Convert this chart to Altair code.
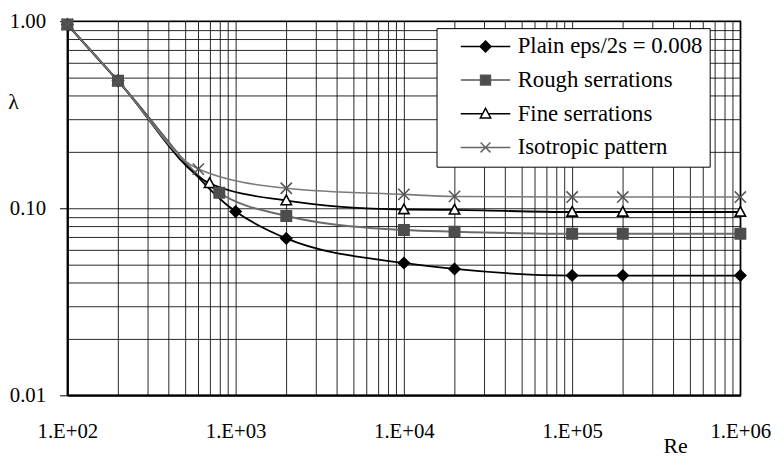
import altair as alt
import pandas as pd

# ---- data ----
series_names = ["Plain eps/2s = 0.008", "Rough serrations", "Fine serrations", "Isotropic pattern"]

plain_re = [1e2, 2e2, 1e3, 2e3, 1e4, 2e4, 1e5, 2e5, 1e6]
plain_lam = [0.96, 0.48, 0.096, 0.069, 0.051, 0.0474, 0.0437, 0.0437, 0.0437]

rough_re = [1e2, 2e2, 8e2, 2e3, 1e4, 2e4, 1e5, 2e5, 1e6]
rough_lam = [0.96, 0.48, 0.121, 0.091, 0.0765, 0.075, 0.073, 0.073, 0.073]

fine_re = [1e2, 2e2, 7e2, 2e3, 1e4, 2e4, 1e5, 2e5, 1e6]
fine_lam = [0.96, 0.48, 0.136, 0.110, 0.0985, 0.098, 0.0955, 0.0955, 0.0955]

iso_re = [1e2, 2e2, 6e2, 2e3, 1e4, 2e4, 1e5, 2e5, 1e6]
iso_lam = [0.96, 0.48, 0.162, 0.128, 0.1186, 0.1157, 0.1148, 0.1148, 0.1148]

x_grid_values = [100, 200, 300, 400, 500, 600, 700, 800, 900,
                 1000, 2000, 3000, 4000, 5000, 6000, 7000, 8000, 9000,
                 10000, 20000, 30000, 40000, 50000, 60000, 70000, 80000, 90000,
                 100000, 200000, 300000, 400000, 500000, 600000, 700000, 800000, 900000,
                 1000000]
x_label_values = [100, 1000, 10000, 100000, 1000000]
y_grid_values = [0.01, 0.02, 0.03, 0.04, 0.05, 0.06, 0.07, 0.08, 0.09,
                 0.1, 0.2, 0.3, 0.4, 0.5, 0.6, 0.7, 0.8, 0.9, 1.0]
y_label_values = [0.01, 0.1, 1.0]

rows = []
for name, xs, ys in [(series_names[0], plain_re, plain_lam),
                     (series_names[1], rough_re, rough_lam),
                     (series_names[2], fine_re, fine_lam),
                     (series_names[3], iso_re, iso_lam)]:
    for xv, yv in zip(xs, ys):
        rows.append({"series": name, "Re": xv, "lam": yv})
df = pd.DataFrame(rows)

# ---- styling ----
FONT = "Liberation Serif"
DIAMOND = "M0,-1L1,0L0,1L-1,0Z"
SQUARE = "M-1,-1H1V1H-1Z"
TRIANGLE = "M0,-1.05L1,0.8L-1,0.8Z"
CROSS = "M-1,-1L1,1M-1,1L1,-1"

line_colors = ["#000000", "#6b6b6b", "#000000", "#7a7a7a"]
line_widths = [1.8, 2.0, 1.8, 1.6]
marker_shapes = [DIAMOND, SQUARE, TRIANGLE, CROSS]
marker_fills = ["#000000", "#4d4d4d", "#ffffff", "transparent"]
marker_strokes = ["#000000", "#4d4d4d", "#000000", "#555555"]
marker_sizes = [121, 110, 110, 130]

legend_paths = [
    "M-5,0H5M0,-1.1L1.1,0L0,1.1L-1.1,0Z",
    "M-5,0H-1M1,0H5M-1,-1H1V1H-1Z",
    "M-5,0H-0.62M0.62,0H5M0,-1.1L1.05,0.85L-1.05,0.85Z",
    "M-5,0H5M-1,-1L1,1M-1,1L1,-1",
]
legend_fills = ["#000000", "#4d4d4d", "#ffffff", "transparent"]
legend_strokes = ["#000000", "#555555", "#000000", "#666666"]

x_enc = alt.X("Re:Q",
              scale=alt.Scale(type="log", domain=[100, 1000000], nice=False),
              axis=alt.Axis(values=x_grid_values, grid=True, ticks=False,
                            labelExpr="indexof([100,1000,10000,100000,1000000], datum.value) >= 0 ? '1.E+0' + format(log(datum.value)/LN10, '.0f') : ''",
                            labelOverlap=False, labelFlush=False, labelPadding=26,
                            title="Re", titleX=614, titleY=51, titleAlign="center",
                            titleBaseline="middle"))
y_enc = alt.Y("lam:Q",
              scale=alt.Scale(type="log", domain=[0.01, 1.0], nice=False),
              axis=alt.Axis(values=y_grid_values, grid=True, tickSize=8,
                            tickOpacity={"condition": {"test": "indexof([0.01,0.1,1], datum.value) >= 0", "value": 1}, "value": 0},
                            labelExpr="indexof([0.01,0.1,1], datum.value) >= 0 ? format(datum.value, '.2f') : ''",
                            labelOverlap=False, labelFlush=False, labelPadding=14,
                            title="λ", titleAngle=0, titleX=-55, titleY=81,
                            titleAlign="center", titleBaseline="middle"))

base = alt.Chart(df)

line_layers = []
for i, name in enumerate(series_names):
    line_layers.append(
        base.transform_filter(alt.datum.series == name)
        .mark_line(interpolate="monotone", color=line_colors[i], strokeWidth=line_widths[i])
        .encode(x=x_enc, y=y_enc)
    )

point_layers = []
for i in [2, 0, 1, 3]:
    name = series_names[i]
    point_layers.append(
        base.transform_filter(alt.datum.series == name)
        .mark_point(shape=marker_shapes[i], filled=True, fill=marker_fills[i],
                    stroke=marker_strokes[i], strokeWidth=1.6, size=marker_sizes[i], opacity=1)
        .encode(x=x_enc, y=y_enc)
    )

leg = alt.Legend(title=None, orient="none", legendX=373, legendY=7,
                 padding=7, strokeColor="black", fillColor="white",
                 labelFont=FONT, labelFontSize=23, labelColor="black", labelLimit=0,
                 symbolSize=100, symbolStrokeWidth=1.5, symbolOffset=31,
                 labelOffset=21, rowPadding=10, cornerRadius=0)

legend_layer = (
    base.transform_filter("false")
    .mark_point(opacity=1)
    .encode(
        x=x_enc, y=y_enc,
        shape=alt.Shape("series:N", scale=alt.Scale(domain=series_names, range=legend_paths), legend=leg),
        fill=alt.Fill("series:N", scale=alt.Scale(domain=series_names, range=legend_fills), legend=leg),
        stroke=alt.Stroke("series:N", scale=alt.Scale(domain=series_names, range=legend_strokes), legend=leg),
    )
)

chart = (
    alt.layer(*line_layers, *point_layers, legend_layer)
    .properties(width=680, height=378, background="white",
                autosize=alt.AutoSizeParams(type="none"),
                padding={"left": 60, "top": 11, "right": 36, "bottom": 63})
    .configure_view(stroke="black", strokeWidth=1.5)
    .configure_axis(labelFont=FONT, labelFontSize=21, labelColor="black",
                    titleFont=FONT, titleFontSize=22, titleColor="black", titleFontWeight="normal",
                    gridColor="#000000", gridWidth=1, gridOpacity=0.85,
                    domainColor="black", domainWidth=2, tickColor="black", tickWidth=1)
)

chart.save("out.html", embed_options={"renderer": "svg", "actions": False})
